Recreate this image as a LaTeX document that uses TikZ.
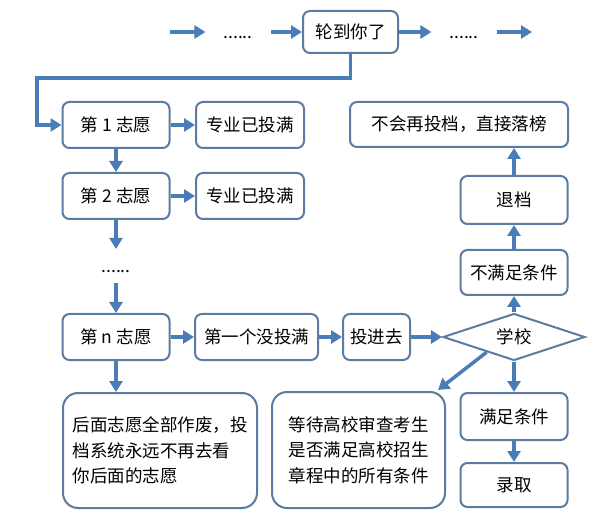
\documentclass[tikz,border=0pt]{standalone}
\usepackage{fontspec}
\setmainfont{Noto Sans CJK SC}
\usepackage{tikz}
\usetikzlibrary{shapes.geometric,arrows.meta,calc}
\definecolor{boxblue}{HTML}{5A7CA0}
\definecolor{arrowblue}{HTML}{4A7CB8}
\newcommand{\cjktext}{\fontsize{17.5}{25.5}\selectfont}

\begin{document}
\begin{tikzpicture}[
  x=1pt, y=-1pt,
  box/.style={draw=boxblue, line width=2pt, rounded corners=7pt, fill=white, inner sep=0pt, align=center, font=\cjktext},
  bigbox/.style={box, rounded corners=15pt, align=left},
  decision/.style={diamond, aspect=3, draw=boxblue, line width=2pt, fill=white, inner sep=0pt, minimum width=142pt, minimum height=47pt, font=\cjktext},
  dotsnode/.style={inner sep=0pt, outer xsep=18pt, outer ysep=9pt, font=\cjktext},
  arrow/.style={-{Triangle[length=11pt,width=13pt]}, line width=3.5pt, draw=arrowblue}
]
\useasboundingbox (0,0) rectangle (594,518);

% Top queue
\coordinate (in) at (170,32);
\coordinate (out) at (532,32);
\coordinate (bend) at (37,78);
\node[dotsnode] (dots1) at (238,32) {\vphantom{第}......};
\node[box, minimum width=95pt, minimum height=42pt] (turn) at (350.5,32) {轮到你了};
\node[dotsnode] (dots2) at (464,32) {\vphantom{第}......};

% Left column
\node[box, minimum width=107pt, minimum height=46pt] (first) at (116,125) {第 1 志愿};
\node[box, minimum width=108pt, minimum height=46pt] (full1) at (250,125) {专业已投满};
\node[box, minimum width=107pt, minimum height=46pt] (second) at (116,196) {第 2 志愿};
\node[box, minimum width=108pt, minimum height=46pt] (full2) at (250,196) {专业已投满};
\node[dotsnode] (dots3) at (116,266) {\vphantom{第}......};
\node[box, minimum width=107pt, minimum height=46pt] (nth) at (116,337) {第 n 志愿};
\node[bigbox, minimum width=194pt, minimum height=115pt] (void) at (160,450.5) {后面志愿全部作废，投\\档系统永远不再去看\\你后面的志愿};

% Middle row
\node[box, minimum width=123pt, minimum height=46pt] (notfull) at (256.5,337) {第一个没投满};
\node[box, minimum width=67pt, minimum height=46pt] (into) at (376.5,337) {投进去};
\node[decision] (school) at (514,337) {学校};
\node[bigbox, minimum width=173pt, minimum height=116pt] (wait) at (358.5,450) {等待高校审查考生\\是否满足高校招生\\章程中的所有条件};

% Right column
\node[box, minimum width=218pt, minimum height=45pt] (drop) at (459,124.5) {不会再投档，直接落榜};
\node[box, minimum width=107pt, minimum height=48pt] (back) at (514,200) {退档};
\node[box, minimum width=107pt, minimum height=45pt] (fail) at (514,272.5) {不满足条件};
\node[box, minimum width=107pt, minimum height=47pt] (pass) at (514,416.5) {满足条件};
\node[box, minimum width=107pt, minimum height=44pt] (admit) at (514,485) {录取};

% Arrows
\draw[arrow] (in) -- (dots1);
\draw[arrow] (dots1) -- (turn);
\draw[arrow] (turn) -- (dots2);
\draw[arrow] (dots2) -- (out);
\draw[arrow] (turn.south) |- (bend) |- (first);
\draw[arrow] (first) -- (full1);
\draw[arrow] (first) -- (second);
\draw[arrow] (second) -- (full2);
\draw[arrow] (second) -- (dots3);
\draw[arrow] (dots3) -- (nth);
\draw[arrow] (nth) -- (notfull);
\draw[arrow] (nth) -- (nth |- void.north);
\draw[arrow] (notfull) -- (into);
\draw[arrow] (into) -- (school);
\draw[arrow] (school) -- (fail);
\draw[arrow] (fail) -- (back);
\draw[arrow] (back) -- (back |- drop.south);
\draw[arrow] (school) -- (pass);
\draw[arrow] (pass) -- (admit);
\draw[arrow] ($(school.west)!0.62!(school.south)$) -- ($(wait.north east)+(-8,-1)$);
\end{tikzpicture}
\end{document}
